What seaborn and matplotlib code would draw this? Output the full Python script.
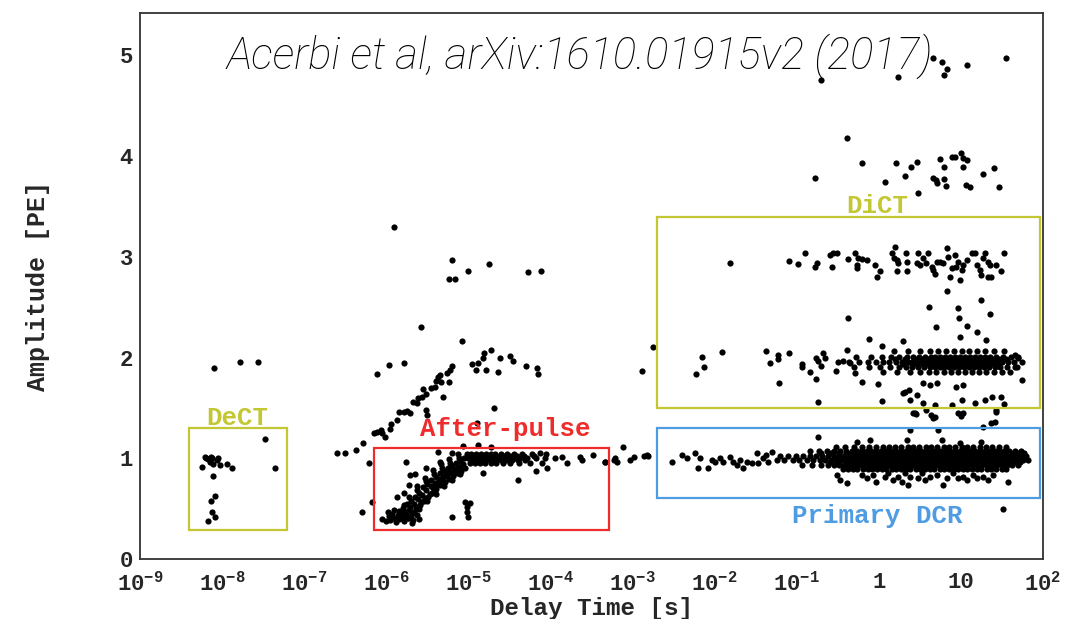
import numpy as np
import pandas as pd
import seaborn as sns
import matplotlib.pyplot as plt
from matplotlib.patches import Rectangle
from matplotlib.ticker import FixedLocator, FixedFormatter, LogLocator, MultipleLocator, NullFormatter

# points are (log10 delay [s], amplitude [PE])

# DeCT region and the few points left of the after-pulse box
dect_pts = [(-8.10, 1.90), (-7.78, 1.96), (-7.56, 1.96), (-7.48, 1.19), (-7.36, 0.90),
            (-8.25, 0.91), (-8.21, 1.01), (-8.17, 0.99), (-8.15, 0.96), (-8.12, 1.00),
            (-8.11, 0.94), (-8.06, 0.98), (-8.05, 1.00), (-8.02, 0.93), (-7.94, 0.94),
            (-7.88, 0.90), (-8.11, 0.82), (-8.09, 0.63), (-8.13, 0.58), (-8.12, 0.47),
            (-8.09, 0.42), (-8.17, 0.38), (-8.19, 1.00), (-8.14, 1.01)]

# delayed after-pulse branch (second curve) and points above the after-pulse box
ap_upper = [(-6.60, 1.05), (-6.50, 1.05), (-6.37, 1.08), (-6.28, 1.15), (-6.21, 0.95),
            (-6.17, 0.57), (-6.29, 0.47), (-6.15, 1.25), (-6.11, 1.26), (-6.07, 1.28),
            (-6.05, 1.25), (-6.01, 1.21), (-5.95, 1.29), (-5.94, 1.34), (-5.87, 1.38),
            (-5.84, 1.46), (-5.79, 1.46), (-5.75, 1.47), (-5.71, 1.45), (-5.67, 1.56),
            (-5.63, 1.55), (-5.61, 1.60), (-5.57, 1.61), (-5.55, 1.69), (-5.51, 1.64),
            (-5.51, 1.48), (-5.50, 1.43), (-5.46, 1.70), (-5.41, 1.71), (-5.39, 1.77),
            (-5.37, 1.81), (-5.35, 1.83), (-5.33, 1.76), (-5.31, 1.61), (-5.26, 1.85),
            (-5.24, 1.76), (-5.22, 1.88), (-5.20, 1.92), (-5.97, 1.93), (-5.78, 1.95),
            (-6.11, 1.84), (-5.58, 2.30), (-5.08, 2.16), (-4.95, 1.94), (-4.91, 1.88),
            (-4.88, 1.95), (-4.82, 2.00), (-4.81, 2.04), (-4.78, 1.88), (-4.73, 2.07),
            (-4.64, 1.86), (-4.61, 2.00), (-4.49, 2.02), (-4.46, 1.97), (-4.30, 1.92),
            (-4.16, 1.90), (-4.15, 1.84), (-4.69, 1.50), (-5.90, 3.30), (-5.20, 2.97),
            (-5.23, 2.78), (-5.16, 2.78), (-5.01, 2.86), (-4.75, 2.93), (-4.27, 2.85),
            (-4.11, 2.86)]

# after-pulse: bottom blob, rising diagonal band, and sparse points inside/right of the box
ap_blob = [(-6.05, 0.40), (-6.00, 0.38), (-5.97, 0.43), (-5.95, 0.39), (-5.93, 0.45),
           (-5.90, 0.41), (-5.88, 0.37), (-5.86, 0.44), (-5.84, 0.40), (-5.82, 0.47),
           (-5.80, 0.42), (-5.78, 0.38), (-5.76, 0.45), (-5.74, 0.41), (-5.72, 0.49),
           (-5.70, 0.43), (-5.68, 0.39), (-5.66, 0.47), (-5.64, 0.52), (-5.62, 0.44),
           (-5.98, 0.47), (-5.91, 0.49), (-5.79, 0.54), (-5.69, 0.36), (-5.60, 0.40)]

ap_diag = [(-5.86, 0.41), (-5.85, 0.48), (-5.81, 0.44), (-5.80, 0.51), (-5.76, 0.47),
           (-5.75, 0.55), (-5.74, 0.41), (-5.71, 0.52), (-5.70, 0.58), (-5.69, 0.46),
           (-5.66, 0.55), (-5.65, 0.62), (-5.64, 0.50), (-5.62, 0.68), (-5.61, 0.60),
           (-5.60, 0.66), (-5.59, 0.54), (-5.56, 0.64), (-5.55, 0.71), (-5.54, 0.58),
           (-5.52, 0.77), (-5.51, 0.68), (-5.50, 0.74), (-5.49, 0.62), (-5.46, 0.72),
           (-5.45, 0.78), (-5.44, 0.66), (-5.42, 0.84), (-5.41, 0.75), (-5.40, 0.81),
           (-5.39, 0.69), (-5.36, 0.79), (-5.35, 0.85), (-5.34, 0.73), (-5.32, 0.90),
           (-5.31, 0.81), (-5.30, 0.87), (-5.29, 0.76), (-5.26, 0.84), (-5.25, 0.90),
           (-5.24, 0.79), (-5.22, 0.95), (-5.21, 0.86), (-5.20, 0.92), (-5.19, 0.82),
           (-5.16, 0.89), (-5.15, 0.95), (-5.14, 0.85), (-5.12, 1.00), (-5.11, 0.91),
           (-5.10, 0.97), (-5.09, 0.87), (-5.06, 0.94), (-5.05, 1.00), (-5.04, 0.90),
           (-5.02, 1.04), (-5.58, 0.57), (-5.53, 0.61), (-5.47, 0.65), (-5.43, 0.70),
           (-5.38, 0.74), (-5.33, 0.78), (-5.28, 0.82), (-5.23, 0.85), (-5.18, 0.88),
           (-5.13, 0.90), (-5.08, 0.93), (-5.72, 0.62), (-5.63, 0.72), (-5.53, 0.80),
           (-5.43, 0.88), (-5.33, 0.94), (-5.23, 0.99), (-5.13, 1.04), (-5.60, 0.50),
           (-5.50, 0.58), (-5.40, 0.65), (-5.30, 0.72), (-5.20, 0.78), (-5.10, 0.84)]

# flat part of the after-pulse band, rows of log10(t) at a given amplitude
ap_flat_rows = {
    0.955: [-4.98, -4.92, -4.86, -4.80, -4.73, -4.66, -4.58, -4.49, -4.38, -4.25, -4.10],
    0.978: [-4.97, -4.90, -4.84, -4.78, -4.72, -4.66, -4.60, -4.54, -4.47, -4.40, -4.31],
    1.000: [-5.00, -4.95, -4.89, -4.83, -4.77, -4.71, -4.65, -4.59, -4.52, -4.45, -4.37,
            -4.28, -4.18, -4.07, -3.95],
    1.022: [-4.99, -4.93, -4.87, -4.81, -4.75, -4.69, -4.62, -4.56, -4.49, -4.41, -4.32,
            -4.20],
    1.045: [-4.97, -4.91, -4.85, -4.79, -4.73, -4.67, -4.60, -4.53, -4.45, -4.35, -4.22,
            -4.05],
}

ap_sparse = [(-5.76, 0.96), (-5.51, 0.90), (-5.71, 0.83), (-5.65, 0.84), (-5.79, 0.66),
             (-5.87, 0.62), (-5.72, 0.73), (-5.37, 1.06), (-5.20, 1.05), (-5.06, 1.12),
             (-4.88, 1.13), (-4.73, 1.11), (-5.04, 0.57), (-5.02, 0.52), (-5.02, 0.47),
             (-5.00, 0.42), (-4.98, 0.56), (-5.20, 0.42), (-5.35, 0.96), (-4.82, 0.85),
             (-4.40, 0.78), (-4.18, 0.87), (-4.90, 1.35), (-4.04, 0.90), (-4.13, 1.05),
             (-3.86, 1.01), (-3.80, 0.95), (-3.64, 1.01), (-3.61, 0.98), (-3.48, 1.03),
             (-3.34, 0.96), (-3.22, 0.98), (-3.19, 0.96), (-3.12, 1.11), (-3.03, 0.98),
             (-2.98, 1.01), (-2.86, 1.02), (-2.81, 1.02), (-3.21, 1.00), (-3.33, 0.96)]

# DiCT: 3 PE band and the points near 4 and 5 PE
dict_high = [(0.66, 4.97), (0.77, 4.93), (0.83, 4.86), (0.79, 4.80), (1.07, 4.90),
             (1.55, 4.97), (0.23, 4.78), (-0.70, 4.75), (-0.39, 4.18), (-0.78, 3.78),
             (-0.21, 3.93), (0.07, 3.74), (0.21, 3.93), (0.32, 3.80), (0.39, 3.89),
             (0.46, 3.94), (0.48, 3.63), (0.74, 3.97), (0.80, 3.89), (0.89, 3.99),
             (0.93, 3.99), (1.00, 4.03), (1.02, 3.98), (1.07, 3.96), (1.02, 3.89),
             (0.66, 3.78), (0.70, 3.76), (0.71, 3.73), (0.80, 3.77), (0.82, 3.70),
             (1.06, 3.71), (1.11, 3.69), (1.27, 3.82), (1.40, 3.88), (1.47, 3.69)]

dict_three = [(-1.81, 2.94), (-1.10, 2.96), (-0.99, 2.93), (-0.90, 3.04), (-0.78, 2.90),
              (-0.75, 2.94), (-0.60, 3.02), (-0.56, 3.04), (-0.51, 3.04), (-0.57, 2.90),
              (-0.38, 2.98), (-0.29, 3.04), (-0.27, 2.92), (-0.25, 2.99), (-0.20, 2.98),
              (-0.15, 2.97), (-0.27, 2.89), (-0.05, 2.92), (0.01, 2.86), (-0.02, 2.80),
              (0.16, 3.04), (0.20, 3.10), (0.22, 2.97), (0.18, 2.99), (0.23, 2.94),
              (0.22, 2.86), (0.33, 3.04), (0.34, 2.95), (0.34, 2.86), (0.46, 2.94),
              (0.48, 3.04), (0.50, 2.92), (0.54, 2.99), (0.60, 3.04), (0.58, 2.94),
              (0.65, 2.90), (0.66, 2.87), (0.68, 2.83), (0.71, 2.95), (0.74, 2.95),
              (0.78, 2.94), (0.83, 3.09), (0.84, 3.00), (0.87, 2.80), (0.89, 2.89),
              (0.93, 3.02), (0.94, 2.90), (0.96, 2.95), (0.99, 2.77), (1.01, 2.87),
              (1.02, 2.92), (1.07, 2.97), (1.13, 3.04), (1.17, 3.04), (1.20, 2.92),
              (1.23, 2.87), (1.25, 2.82), (1.27, 2.99), (1.29, 3.04), (1.33, 2.95),
              (1.33, 2.80), (1.37, 2.80), (1.43, 2.92), (1.49, 2.86), (1.52, 3.04),
              (1.35, 2.92)]

# DiCT: 2 PE band, sparse points and dense rows
dict_two_sparse = [(-2.75, 2.10), (-2.88, 1.87), (-2.16, 2.01), (-2.13, 1.91), (-2.23, 1.84),
                   (-1.91, 2.05), (-1.37, 2.06), (-1.32, 1.95), (-1.23, 2.03), (-1.23, 1.99),
                   (-1.10, 2.04), (-1.22, 1.75), (-0.93, 1.94), (-0.94, 1.91), (-0.84, 1.86),
                   (-0.77, 2.00), (-0.74, 1.97), (-0.71, 1.92), (-0.68, 2.04), (-0.65, 2.00),
                   (-0.76, 1.79), (-0.74, 1.56), (-0.52, 1.87), (-0.37, 2.39), (-0.39, 2.07),
                   (-0.44, 1.97), (-0.35, 1.95), (-0.29, 1.85), (-0.20, 1.76), (-0.12, 2.18),
                   (-0.01, 1.74), (0.04, 1.57), (0.04, 2.11), (0.29, 2.16), (0.30, 1.65),
                   (0.32, 1.66), (0.37, 1.68), (0.38, 1.58), (0.46, 1.63), (0.44, 1.45),
                   (0.54, 1.75), (0.54, 1.55), (0.57, 1.48), (0.61, 2.50), (0.62, 1.73),
                   (0.64, 1.43), (0.66, 1.40), (0.68, 1.53), (0.70, 2.30), (0.71, 1.75),
                   (0.83, 2.66), (0.89, 1.53), (0.94, 1.71), (0.96, 2.49), (0.98, 2.39),
                   (1.02, 1.73), (1.01, 1.58), (1.02, 1.45), (1.07, 2.31), (0.99, 2.20),
                   (1.17, 1.55), (1.19, 2.25), (1.25, 2.57), (1.29, 1.58), (1.30, 2.17),
                   (1.36, 2.43), (1.38, 1.61), (1.43, 1.48), (1.49, 1.61), (1.52, 1.54),
                   (1.68, 1.91), (1.75, 1.78), (1.69, 2.00), (1.66, 2.03), (0.45, 1.44),
                   (0.68, 1.41), (1.00, 1.42), (1.27, 1.31), (1.37, 1.35), (1.42, 1.36),
                   (0.38, 1.28), (0.72, 1.28), (0.42, 1.45), (0.96, 1.45), (1.43, 1.46)]

dict_two_rows = {
    1.86: [0.05, 0.22, 0.38, 0.50, 0.61, 0.70, 0.79, 0.88, 0.96, 1.05, 1.13, 1.22, 1.31,
           1.40, 1.50, 1.60],
    1.91: [-0.30, -0.12, 0.02, 0.14, 0.24, 0.33, 0.41, 0.48, 0.55, 0.62, 0.68, 0.74, 0.80,
           0.86, 0.92, 0.98, 1.04, 1.10, 1.16, 1.22, 1.28, 1.34, 1.41, 1.48, 1.56, 1.66],
    1.935: [0.30, 0.40, 0.47, 0.54, 0.60, 0.66, 0.72, 0.78, 0.84, 0.90, 0.96, 1.02, 1.08,
            1.14, 1.20, 1.26, 1.32, 1.39, 1.46],
    1.96: [-0.50, -0.36, -0.24, -0.13, -0.04, 0.05, 0.13, 0.21, 0.28, 0.35, 0.41, 0.47,
           0.53, 0.59, 0.65, 0.71, 0.77, 0.83, 0.89, 0.95, 1.01, 1.07, 1.13, 1.19, 1.25,
           1.31, 1.37, 1.43, 1.50, 1.57, 1.65, 1.74],
    1.985: [0.20, 0.32, 0.44, 0.52, 0.60, 0.66, 0.72, 0.78, 0.84, 0.90, 0.96, 1.02, 1.08,
            1.14, 1.20, 1.26, 1.33, 1.40, 1.47, 1.55],
    2.01: [-0.28, -0.10, 0.04, 0.15, 0.25, 0.34, 0.42, 0.49, 0.56, 0.63, 0.69, 0.75, 0.81,
           0.87, 0.93, 0.99, 1.05, 1.11, 1.17, 1.23, 1.29, 1.36, 1.43, 1.51, 1.61, 1.70],
    2.06: [0.18, 0.36, 0.50, 0.62, 0.72, 0.82, 0.92, 1.01, 1.10, 1.19, 1.29, 1.40, 1.52],
}

# primary dark counts around 1 PE
dcr_sparse = [(-2.82, 1.03), (-2.52, 0.96), (-2.40, 1.03), (-2.34, 1.00), (-2.24, 1.05),
              (-2.20, 0.90), (-2.18, 1.00), (-2.08, 0.90), (-2.03, 0.98), (-2.00, 0.96),
              (-1.93, 1.00), (-1.90, 0.96), (-1.81, 1.01), (-1.78, 0.96), (-1.73, 0.93),
              (-1.69, 0.98), (-1.65, 0.90), (-1.61, 0.96), (-1.55, 0.95), (-1.49, 1.05),
              (-1.47, 0.95), (-1.41, 1.00), (-1.37, 1.03), (-1.35, 0.96), (-1.30, 1.06),
              (-0.74, 1.21), (-0.51, 0.83), (-0.47, 0.78), (-0.39, 0.75), (-0.21, 0.83),
              (-0.15, 0.80), (-0.07, 0.83), (-0.03, 0.76), (0.07, 0.81), (0.11, 0.85),
              (0.17, 0.78), (0.23, 0.81), (0.28, 0.76), (0.32, 0.85), (0.35, 0.73),
              (0.38, 0.81), (0.48, 0.80), (0.52, 0.85), (0.56, 0.78), (0.62, 0.81),
              (0.71, 0.83), (0.78, 0.73), (0.83, 0.80), (0.90, 0.85), (0.96, 0.80),
              (1.02, 0.81), (1.08, 0.78), (1.15, 0.83), (1.19, 0.80), (1.27, 0.81),
              (1.33, 0.78), (1.39, 0.83), (1.57, 0.76), (1.51, 0.50), (-0.26, 1.16),
              (-0.11, 1.18), (0.34, 1.18), (0.77, 1.18), (1.25, 1.16), (0.99, 1.15)]

dcr_rows = {
    0.890: [-0.44, -0.37, -0.31, -0.26, -0.19, -0.13, -0.08, -0.02, 0.04, 0.09, 0.16, 0.21,
            0.27, 0.33, 0.38, 0.45, 0.50, 0.56, 0.62, 0.67, 0.74, 0.79, 0.85, 0.91, 0.96,
            1.03, 1.08, 1.14, 1.20, 1.25, 1.32, 1.37, 1.43, 1.50, 1.55],
    0.935: [-0.93, -0.82, -0.71, -0.62, -0.55, -0.49, -0.42, -0.36, -0.30, -0.24, -0.18,
            -0.12, -0.06, 0.00, 0.06, 0.12, 0.18, 0.24, 0.30, 0.36, 0.42, 0.48, 0.54, 0.60,
            0.66, 0.72, 0.78, 0.84, 0.90, 0.96, 1.02, 1.08, 1.14, 1.20, 1.26, 1.32, 1.38,
            1.44, 1.50, 1.56, 1.62, 1.69],
    0.958: [-0.60, -0.50, -0.40, -0.33, -0.27, -0.21, -0.15, -0.09, -0.03, 0.03, 0.09,
            0.15, 0.21, 0.27, 0.33, 0.39, 0.45, 0.51, 0.57, 0.63, 0.69, 0.75, 0.81, 0.87,
            0.93, 0.99, 1.05, 1.11, 1.17, 1.23, 1.29, 1.35, 1.41, 1.47, 1.53, 1.59, 1.65,
            1.72],
    0.980: [-1.24, -1.15, -1.05, -0.97, -0.88, -0.80, -0.72, -0.65, -0.58, -0.52, -0.46,
            -0.40, -0.34, -0.28, -0.22, -0.16, -0.10, -0.04, 0.02, 0.08, 0.14, 0.20, 0.26,
            0.32, 0.38, 0.44, 0.50, 0.56, 0.62, 0.68, 0.74, 0.80, 0.86, 0.92, 0.98, 1.04,
            1.10, 1.16, 1.22, 1.28, 1.34, 1.40, 1.46, 1.52, 1.58, 1.64, 1.70, 1.76, 1.82],
    1.025: [-1.20, -1.11, -1.01, -0.92, -0.84, -0.76, -0.69, -0.62, -0.55, -0.49, -0.43,
            -0.37, -0.31, -0.25, -0.19, -0.13, -0.07, -0.01, 0.05, 0.11, 0.17, 0.23, 0.29,
            0.35, 0.41, 0.47, 0.53, 0.59, 0.65, 0.71, 0.77, 0.83, 0.89, 0.95, 1.01, 1.07,
            1.13, 1.19, 1.25, 1.31, 1.37, 1.43, 1.49, 1.55, 1.61, 1.67, 1.73, 1.79],
    1.048: [-0.70, -0.58, -0.48, -0.40, -0.34, -0.28, -0.22, -0.16, -0.10, -0.04, 0.02,
            0.08, 0.14, 0.20, 0.26, 0.32, 0.38, 0.44, 0.50, 0.56, 0.62, 0.68, 0.74, 0.80,
            0.86, 0.92, 0.98, 1.04, 1.10, 1.16, 1.22, 1.28, 1.34, 1.40, 1.46, 1.52, 1.58,
            1.64, 1.70, 1.77],
    1.070: [-0.84, -0.73, -0.63, -0.54, -0.47, -0.40, -0.33, -0.27, -0.21, -0.15, -0.09,
            -0.03, 0.03, 0.09, 0.15, 0.21, 0.27, 0.33, 0.39, 0.45, 0.51, 0.57, 0.63, 0.69,
            0.75, 0.81, 0.87, 0.93, 0.99, 1.05, 1.11, 1.17, 1.23, 1.29, 1.35, 1.41, 1.47,
            1.53, 1.59, 1.66, 1.73],
    1.110: [-0.52, -0.41, -0.30, -0.21, -0.12, -0.04, 0.05, 0.12, 0.20, 0.27, 0.35, 0.42,
            0.49, 0.57, 0.64, 0.71, 0.79, 0.86, 0.93, 1.01, 1.08, 1.15, 1.23, 1.30, 1.38,
            1.46, 1.55],
}

# region boxes: name, delay range [s], amplitude range [PE], colour, label position
box_names = ['DeCT', 'After-pulse', 'DiCT', 'Primary DCR']
box_t = [(3.95e-9, 6.2e-8), (7.1e-7, 5.1e-4), (2.0e-3, 93.0), (2.0e-3, 93.0)]
box_a = [(0.29, 1.30), (0.29, 1.10), (1.50, 3.39), (0.61, 1.30)]
box_colors = ['#c4c734', '#ef2b2b', '#c4c734', '#4e9ce2']
label_t = [1.55e-8, 2.8e-5, 0.95, 0.97]
label_a = [1.40, 1.29, 3.50, 0.43]

x_ticks = [1e-9, 1e-8, 1e-7, 1e-6, 1e-5, 1e-4, 1e-3, 1e-2, 1e-1, 1, 10, 100]
x_tick_labels = ['$10^{-9}$', '$10^{-8}$', '$10^{-7}$', '$10^{-6}$', '$10^{-5}$',
                 '$10^{-4}$', '$10^{-3}$', '$10^{-2}$', '$10^{-1}$', '1', '10', '$10^{2}$']
y_ticks = [0, 1, 2, 3, 4, 5]

citation = 'Acerbi et al, arXiv:1610.01915v2 (2017)'


def rows_to_pairs(rows):
    return [(t, a) for a, ts in rows.items() for t in ts]


pairs = (dect_pts + ap_upper + ap_blob + ap_diag + rows_to_pairs(ap_flat_rows) + ap_sparse
         + dict_high + dict_three + dict_two_sparse + rows_to_pairs(dict_two_rows)
         + dcr_sparse + rows_to_pairs(dcr_rows))
logt, amp = np.array(pairs).T
df = pd.DataFrame({'delay': 10.0 ** logt, 'amplitude': amp})

sns.set_style('white')
plt.rcParams['font.family'] = ['Liberation Mono', 'DejaVu Sans']
plt.rcParams['mathtext.fontset'] = 'custom'
plt.rcParams['mathtext.rm'] = 'Liberation Mono:bold'
plt.rcParams['mathtext.it'] = 'Liberation Mono:bold'
plt.rcParams['mathtext.bf'] = 'Liberation Mono:bold'
plt.rcParams['mathtext.default'] = 'rm'

fig = plt.figure(figsize=(10.83, 6.19), dpi=100)
ax = fig.add_axes([140 / 1083, 60 / 619, 903 / 1083, 546 / 619])

sns.scatterplot(data=df, x='delay', y='amplitude', color='black', s=20,
                linewidth=0, legend=False, ax=ax)

ax.set_xscale('log')
ax.set_xlim(1e-9, 1e2)
ax.set_ylim(0, 5.42)

for name, (t0, t1), (a0, a1), col, lt, la in zip(box_names, box_t, box_a, box_colors,
                                                 label_t, label_a):
    ax.add_patch(Rectangle((t0, a0), t1 - t0, a1 - a0, fill=False, edgecolor=col,
                           linewidth=1.6, zorder=3))
    ax.text(lt, la, name, color=col, fontsize=18.5, fontweight='bold', ha='center',
            va='center', zorder=4)

ax.xaxis.set_major_locator(FixedLocator(x_ticks))
ax.xaxis.set_major_formatter(FixedFormatter(x_tick_labels))
ax.xaxis.set_minor_locator(LogLocator(base=10, subs=np.arange(2, 10), numticks=30))
ax.xaxis.set_minor_formatter(NullFormatter())
ax.yaxis.set_major_locator(FixedLocator(y_ticks))
ax.yaxis.set_minor_locator(MultipleLocator(0.2))

ax.tick_params(which='both', direction='in', top=False, right=False, color='#222222',
               width=1.0)
ax.tick_params(axis='x', which='major', length=10, pad=9, labelsize=16)
ax.tick_params(axis='x', which='minor', length=5)
ax.tick_params(axis='y', which='major', length=21, pad=5, labelsize=16)
ax.tick_params(axis='y', which='minor', length=11)
for lab in ax.get_xticklabels() + ax.get_yticklabels():
    lab.set_fontweight('bold')

for sp in ax.spines.values():
    sp.set_color('#333333')
    sp.set_linewidth(1.3)

ax.set_xlabel('Delay Time [s]', fontsize=17.5, fontweight='bold')
ax.set_ylabel('Amplitude [PE]', fontsize=18, fontweight='bold')
ax.xaxis.set_label_coords(0.5, -0.069)
ax.yaxis.set_label_coords(-0.100, 0.5)

fig.text(580 / 1083, 1 - 56 / 619, citation, fontsize=31.4, fontstyle='italic',
         fontweight='light', family=['Roboto', 'DejaVu Sans'], ha='center', va='center',
         color='black')

fig.savefig('out.png', dpi=100)
